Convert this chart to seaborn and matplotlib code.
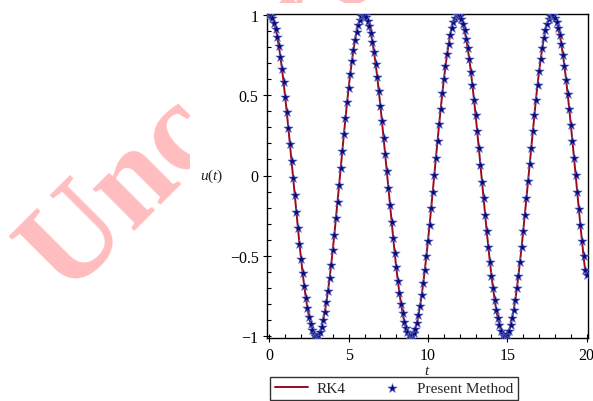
import numpy as np
import matplotlib
matplotlib.use("Agg")
import matplotlib.pyplot as plt
from matplotlib.patches import Rectangle
from matplotlib.ticker import MultipleLocator, FixedLocator
import seaborn as sns

# time grid of the solution (step 0.1 on [0, 20])
t = np.round(np.arange(0, 201) * 0.1, 1)

# displacement u(t)
u = [
    1.000, 0.994, 0.978, 0.950, 0.912, 0.863, 0.805, 0.738, 0.663, 0.580,
    0.491, 0.396, 0.297, 0.194, 0.090, -0.016, -0.121, -0.225, -0.327, -0.425,
    -0.518, -0.606, -0.686, -0.759, -0.824, -0.879, -0.924, -0.960, -0.984, -0.997,
    -0.999, -0.991, -0.971, -0.940, -0.898, -0.847, -0.786, -0.716, -0.639, -0.554,
    -0.463, -0.367, -0.266, -0.163, -0.058, 0.048, 0.153, 0.256, 0.357, 0.454,
    0.546, 0.631, 0.709, 0.779, 0.841, 0.894, 0.936, 0.968, 0.989, 0.999,
    0.998, 0.986, 0.962, 0.928, 0.884, 0.830, 0.766, 0.694, 0.614, 0.527,
    0.434, 0.337, 0.235, 0.132, 0.026, -0.080, -0.184, -0.287, -0.387, -0.482,
    -0.572, -0.655, -0.731, -0.799, -0.858, -0.908, -0.947, -0.976, -0.993, -1.000,
    -0.995, -0.980, -0.953, -0.916, -0.869, -0.811, -0.745, -0.671, -0.588, -0.500,
    -0.405, -0.307, -0.204, -0.100, 0.006, 0.111, 0.216, 0.318, 0.416, 0.510,
    0.598, 0.679, 0.753, 0.818, 0.874, 0.920, 0.957, 0.982, 0.996, 1.000,
    0.992, 0.973, 0.943, 0.903, 0.852, 0.792, 0.723, 0.646, 0.562, 0.472,
    0.376, 0.276, 0.173, 0.068, -0.038, -0.143, -0.246, -0.347, -0.444, -0.537,
    -0.623, -0.702, -0.773, -0.836, -0.889, -0.932, -0.965, -0.988, -0.999, -0.999,
    -0.987, -0.965, -0.932, -0.889, -0.835, -0.773, -0.701, -0.622, -0.536, -0.444,
    -0.346, -0.245, -0.142, -0.036, 0.069, 0.174, 0.277, 0.377, 0.472, 0.563,
    0.647, 0.724, 0.793, 0.853, 0.903, 0.943, 0.973, 0.992, 1.000, 0.996,
    0.982, 0.956, 0.920, 0.874, 0.817, 0.752, 0.678, 0.597, 0.509, 0.415,
    0.317, 0.215, 0.110, 0.005, -0.101, -0.206, -0.308, -0.406, -0.501, -0.589,
    -0.620,
]

x_ticks = [0, 5, 10, 15, 20]
y_ticks = [-1, -0.5, 0, 0.5, 1]
y_tick_labels = ["\u22121", "\u22120.5", "0", "0.5", "1"]

sns.set_theme(style="white")
plt.rcParams["font.family"] = ["Liberation Serif", "DejaVu Serif"]
plt.rcParams["mathtext.fontset"] = "custom"
plt.rcParams["mathtext.rm"] = "Liberation Serif"
plt.rcParams["mathtext.it"] = "Liberation Serif:italic"

fig = plt.figure(figsize=(5.93, 4.02), dpi=100)
fig.patch.set_facecolor("white")

# watermark behind the plot panel
fig.text(66 / 593, 1 - 296 / 402, "Uncorrected", rotation=45,
         rotation_mode="anchor", ha="left", va="baseline",
         fontsize=93, fontweight="bold", family="Liberation Serif",
         color="#ffbdbf", zorder=-3)
fig.add_artist(Rectangle((190 / 593, 0), 1, 1 - 4 / 402,
                         transform=fig.transFigure, facecolor="white",
                         edgecolor="none", zorder=-2))

ax = fig.add_axes([267 / 593, 1 - 338.5 / 402,
                   (587.5 - 267) / 593, (338.5 - 14.5) / 402])
ax.set_facecolor("white")

sns.lineplot(x=t, y=u, ax=ax, color="#9b0a1e", linewidth=1.4,
             label="RK4", legend=False)
sns.scatterplot(x=t, y=u, ax=ax, marker="*", s=50, color="#0a0a80",
                edgecolor="#6470c0", linewidth=0.4, label="Present Method",
                legend=False, zorder=3)

ax.set_xlim(-0.145, 20.05)
ax.set_ylim(-1.0075, 1.0075)

ax.xaxis.set_major_locator(FixedLocator(x_ticks))
ax.xaxis.set_minor_locator(MultipleLocator(1))
ax.yaxis.set_major_locator(FixedLocator(y_ticks))
ax.yaxis.set_minor_locator(MultipleLocator(0.1))
ax.set_xticklabels([str(v) for v in x_ticks])
ax.set_yticklabels(y_tick_labels)

for side in ["left", "right", "top", "bottom"]:
    ax.spines[side].set_visible(True)
    ax.spines[side].set_color("black")
    ax.spines[side].set_linewidth(1.0)

ax.tick_params(axis="both", which="major", direction="inout", length=6,
               width=0.8, color="black", labelsize=11.5, labelcolor="black",
               bottom=True, left=True, top=False, right=False)
ax.tick_params(axis="x", which="major", pad=4)
ax.tick_params(axis="y", which="major", pad=3)
ax.tick_params(axis="both", which="minor", direction="in", length=3,
               width=0.8, color="black", bottom=True, left=True,
               top=False, right=False)

ax.set_xlabel(r"$t$", fontsize=11)
ax.xaxis.set_label_coords(0.5, -0.082)
ax.set_ylabel(r"$u(t)$", fontsize=11, rotation=0, va="center")
ax.yaxis.set_label_coords(-0.173, 0.5)

handles, labels = ax.get_legend_handles_labels()
leg = fig.legend(handles, labels, loc="center", ncol=2,
                 bbox_to_anchor=(394 / 593, 1 - 389.5 / 402),
                 frameon=True, fancybox=False, edgecolor="black",
                 fontsize=11, handlelength=2.2, columnspacing=2.0,
                 handletextpad=0.5, borderpad=0.3, borderaxespad=0)
leg.get_frame().set_linewidth(1.0)

fig.savefig("out.png", dpi=100, facecolor="white")
